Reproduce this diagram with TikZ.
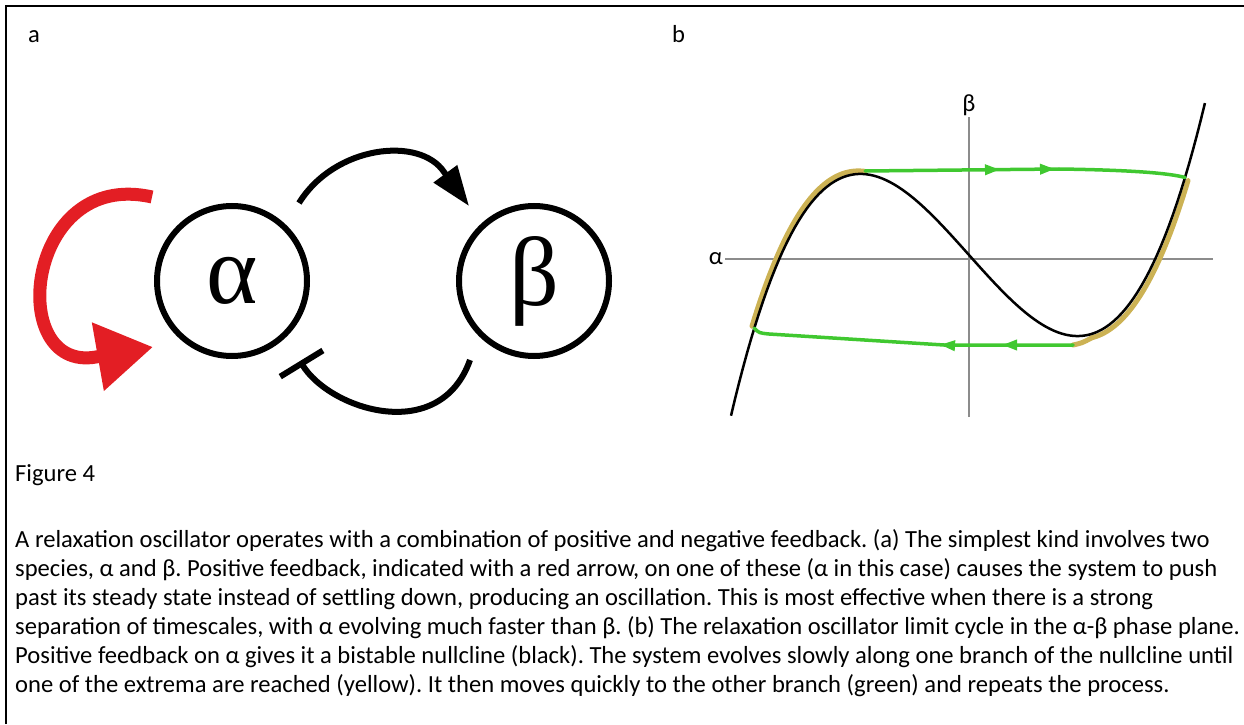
\documentclass[tikz,border=0pt]{standalone}
\usepackage{fontspec}
\setmainfont{Carlito}
\newfontfamily\glyphfont{Liberation Serif}
\usepackage{tikz}
\usetikzlibrary{arrows.meta, calc, decorations.markings}
\definecolor{OscRed}{RGB}{227, 30, 36}
\definecolor{OscGreen}{RGB}{64, 200, 48}
\definecolor{OscYellow}{RGB}{204, 178, 84}
\definecolor{OscAxis}{RGB}{140, 140, 140}
\frenchspacing

\begin{document}
\begin{tikzpicture}[x=1pt,y=1pt,
  species/.style={circle, draw, line width=6pt, minimum size=150pt, inner sep=0pt,
    font=\glyphfont\fontsize{98}{98}\selectfont},
  act/.style={line width=6pt, -{Triangle[length=40pt,width=28pt]}},
  inh/.style={line width=6pt, -{Bar[width=50pt]}},
  posfb/.style={OscRed, line width=13pt, -{Triangle[length=56pt,width=66pt]}},
  axisline/.style={OscAxis, line width=1.5pt},
  nullcline/.style={black, line width=2.5pt},
  slowpart/.style={OscYellow, line width=5pt, line cap=round},
  fastpart/.style={OscGreen, line width=3.5pt, line cap=round},
  txt/.style={inner sep=0pt, font=\fontsize{24.6}{29}\selectfont}]
  \path[use as bounding box] (0,0) rectangle (1244,724);

  % Frame
  \draw[line width=2pt] (6,0) -- (6,718) -- (1244,718);

  % Panel letters
  \node[txt, anchor=base west] (labelA) at (28,681) {a};
  \node[txt, anchor=base west] (labelB) at (672,681) {b};

  % Panel a: two species
  \node[species] (alpha) at (232,443) {α};
  \node[species] (beta) at (534,443) {β};

  \coordinate (actStart) at ($(alpha)+(67,78)$);
  \coordinate (actBase) at ($(beta)+(-90,109)$);
  \coordinate (actTip) at ($(beta)+(-65,75)$);
  \draw[act] (actStart) .. controls (335,579) and (420,588) .. (actBase) -- (actTip);

  \coordinate (inhStart) at ($(beta)+(-64,-79)$);
  \coordinate (inhEnd) at ($(alpha)+(68,-80)$);
  \draw[inh] (inhStart) .. controls (440,279) and (330,314) .. (inhEnd);

  \coordinate (posStart) at ($(alpha)+(-80,84)$);
  \coordinate (posBase) at ($(alpha)+(-136,-76)$);
  \coordinate (posTip) at ($(alpha)+(-79,-66)$);
  \draw[posfb] (posStart) .. controls (25,556) and (5,351) .. (posBase) -- (posTip);

  % Panel b: phase plane
  \begin{scope}[shift={(969,465)}]
    \draw[axisline] (-244,0) -- (244,0);
    \draw[axisline] (0,-158) -- (0,142);
    \node[txt, anchor=east, inner sep=2pt] (alphaAxis) at (-244,0) {α};
    \node[txt, anchor=south, inner sep=1pt] (betaAxis) at (0,142) {β};

    % slow branches
    \draw[slowpart] plot[domain=-2.15:-1.02, samples=40] ({100*\x-2}, {31.7*\x*(\x*\x-3.5344)+7});
    \draw[slowpart] (104,-86) .. controls (113,-84) .. (123,-78.7)
      -- plot[domain=1.2:2.16, samples=40] ({100*\x+3}, {31.7*\x*(\x*\x-3.5344)+1});

    % nullcline
    \draw[nullcline] plot[domain=-2.38:2.36, samples=120] ({100*\x}, {31.7*\x*(\x*\x-3.5344)+4});

    % fast jumps
    \draw[fastpart, postaction={decorate, decoration={markings,
        mark=at position 135pt with {\arrow{Triangle[length=15pt,width=10pt]}},
        mark=at position 190pt with {\arrow{Triangle[length=15pt,width=10pt]}}}}]
      (-104,88) -- (90,90) .. controls (160,89) and (200,86) .. (216,81.5);
    \draw[fastpart, postaction={decorate, decoration={markings,
        mark=at position 71pt with {\arrow{Triangle[length=15pt,width=10pt]}},
        mark=at position 133pt with {\arrow{Triangle[length=15pt,width=10pt]}}}}]
      (104,-86) -- (-25,-86) -- (-200,-75) .. controls (-210,-74) .. (-215,-69);
  \end{scope}

  % Caption
  \node[txt, anchor=base west] (figTitle) at (15,243) {Figure 4};
  \node[txt, anchor=base west, align=left] (caption) at (15,32) {A relaxation oscillator operates with a combination of positive and negative feedback. (a) The simplest kind involves two\\
species, α and β. Positive feedback, indicated with a red arrow, on one of these (α in this case) causes the system to push\\
past its steady state instead of settling down, producing an oscillation. This is most effective when there is a strong\\
separation of timescales, with α evolving much faster than β. (b) The relaxation oscillator limit cycle in the α-β phase plane.\\
Positive feedback on α gives it a bistable nullcline (black). The system evolves slowly along one branch of the nullcline until\\
one of the extrema are reached (yellow). It then moves quickly to the other branch (green) and repeats the process.};
\end{tikzpicture}
\end{document}
